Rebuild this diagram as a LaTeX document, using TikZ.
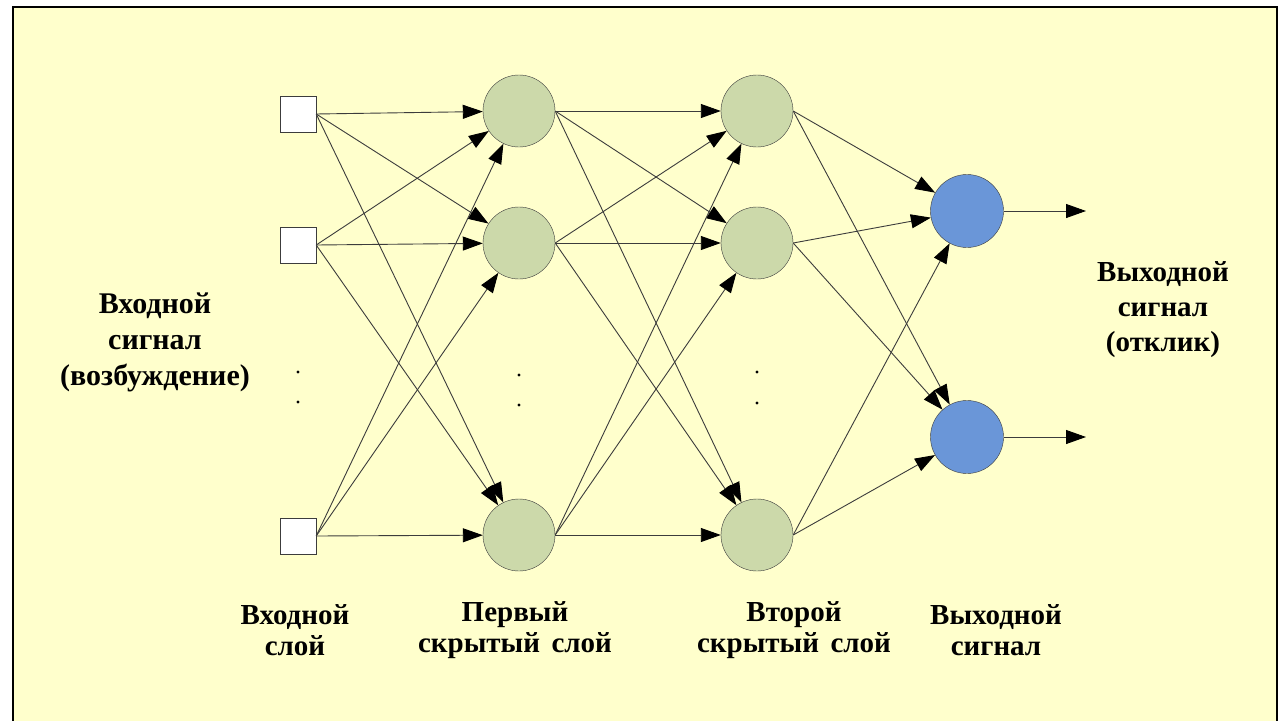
\documentclass[tikz,border=0pt]{standalone}
\usepackage{fontspec}
\setmainfont{Liberation Serif}
\usetikzlibrary{arrows.meta}

\definecolor{bgcream}{RGB}{255,255,204}
\definecolor{hidgreen}{RGB}{204,217,170}
\definecolor{outblue}{RGB}{106,150,216}
\definecolor{edgegray}{RGB}{60,60,60}

\tikzset{
  inbox/.style={draw=edgegray, fill=white, minimum size=36pt, inner sep=0pt},
  hidnode/.style={circle, draw=edgegray, fill=hidgreen, minimum size=72pt, inner sep=0pt},
  outnode/.style={circle, draw=edgegray, fill=outblue, minimum size=73pt, inner sep=0pt},
  link/.style={draw=edgegray, line width=0.9pt, -{Triangle[length=20pt,width=14pt,color=black]}},
  lbl/.style={font=\fontsize{30}{36}\selectfont\bfseries, align=center},
  lowlbl/.style={font=\fontsize{29}{31}\selectfont\bfseries, align=center},
}

\begin{document}
\begin{tikzpicture}[x=1pt,y=-1pt]
  \useasboundingbox (0,0) rectangle (1279,720);
  % 1. Background panel
  \draw[line width=2pt, fill=bgcream] (13,730) -- (13,7) -- (1277,7) -- (1277,730);

  % 2. Define the layers
  \node[inbox] (in1) at (298,114) {};
  \node[inbox] (in2) at (298,245) {};
  \node[inbox] (in3) at (298,536) {};

  \node[hidnode] (h1a) at (519,111) {};
  \node[hidnode] (h1b) at (519,243) {};
  \node[hidnode] (h1c) at (519,535) {};

  \node[hidnode] (h2a) at (757,111) {};
  \node[hidnode] (h2b) at (757,243) {};
  \node[hidnode] (h2c) at (757,535) {};

  \node[outnode] (o1) at (967,211) {};
  \node[outnode] (o2) at (967,437) {};

  \coordinate (y1) at (1086,211);
  \coordinate (y2) at (1086,437);

  % 3. Dots between the rows
  \fill (298,372) circle (1.6pt) (298,402) circle (1.6pt);
  \fill (519,375) circle (1.6pt) (519,405) circle (1.6pt);
  \fill (757,372) circle (1.6pt) (757,403) circle (1.6pt);

  % 4. Connections
  \foreach \s in {in1,in2,in3}
    \foreach \t in {h1a,h1b,h1c}
      \draw[link] (\s.east) -- (\t);
  \foreach \s in {h1a,h1b,h1c}
    \foreach \t in {h2a,h2b,h2c}
      \draw[link] (\s.east) -- (\t);
  \foreach \s in {h2a,h2b,h2c}
    \foreach \t in {o1,o2}
      \draw[link] (\s.east) -- (\t);
  \draw[link] (o1.east) -- (y1);
  \draw[link] (o2.east) -- (y2);

  % 5. Labels
  \node[lbl] (insig) at (155,342) {Входной\\сигнал\\(возбуждение)};
  \node[lbl, font=\fontsize{29}{35}\selectfont\bfseries] (outsig) at (1163,310) {Выходной\\сигнал\\(отклик)};
  \node[lowlbl] (inlayer) at (295,630) {Входной\\слой};
  \node[lowlbl] (hid1layer) at (515,630) {Первый\\скрытый\hspace{0.4em}слой};
  \node[lowlbl] (hid2layer) at (794,630) {Второй\\скрытый\hspace{0.4em}слой};
  \node[lowlbl] (outlayer) at (996,630) {Выходной\\сигнал};
\end{tikzpicture}
\end{document}
